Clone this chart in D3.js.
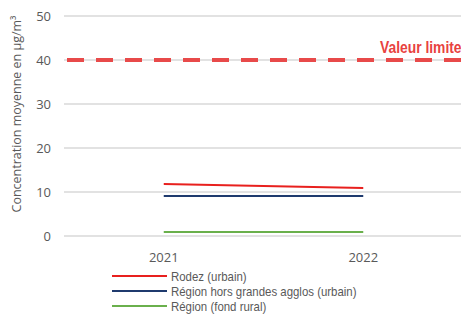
<!DOCTYPE html>
<html>
<head>
<meta charset="utf-8">
<script src="https://cdn.jsdelivr.net/npm/d3@7"></script>
<style>
  body { margin: 0; background: #fff; }
  text { font-family: "Open Sans", "DejaVu Sans", sans-serif; }
</style>
</head>
<body>
<div id="chart"></div>
<script>
// data
var years = ["2021", "2022"];
var seriesNames = ["Rodez (urbain)", "Région hors grandes agglos (urbain)", "Région (fond rural)"];
var seriesColors = ["#e8201e", "#1f3a6e", "#6ab04c"];
var rodez = [11.8, 10.9];
var regionUrbain = [9.1, 9.1];
var regionRural = [0.9, 0.9];
var yTicks = [0, 10, 20, 30, 40, 50];
var limitValue = 40;
var limitLabel = "Valeur limite";

var width = 461, height = 316;
var margin = {top: 16, right: -2, bottom: 80, left: 64};

var svg = d3.select("#chart").append("svg")
    .attr("width", width)
    .attr("height", height);

var x = d3.scaleBand()
    .domain(years)
    .range([margin.left, width - margin.right]);

var y = d3.scaleLinear()
    .domain([0, 50])
    .range([height - margin.bottom, margin.top]);

// gridlines
svg.append("g")
    .selectAll("line")
    .data(yTicks)
    .enter().append("line")
    .attr("x1", margin.left)
    .attr("x2", width)
    .attr("y1", function(d) { return y(d); })
    .attr("y2", function(d) { return y(d); })
    .style("stroke", "#d9d9d9")
    .style("stroke-width", 1.5);

// y tick labels
svg.append("g")
    .selectAll("text")
    .data(yTicks)
    .enter().append("text")
    .attr("x", 51)
    .attr("y", function(d) { return y(d); })
    .attr("dy", "0.35em")
    .attr("text-anchor", "end")
    .style("font-size", "13px")
    .style("fill", "#595959")
    .text(function(d) { return d; });

// y axis title
svg.append("text")
    .attr("transform", "translate(21,114) rotate(-90) scale(0.96,1)")
    .attr("text-anchor", "middle")
    .style("font-size", "13px")
    .style("fill", "#595959")
    .text("Concentration moyenne en µg/m³");

// x labels
svg.append("g")
    .selectAll("text")
    .data(years)
    .enter().append("text")
    .attr("x", function(d) { return x(d) + x.bandwidth() / 2; })
    .attr("y", 262)
    .attr("text-anchor", "middle")
    .style("font-size", "13px")
    .style("fill", "#595959")
    .text(function(d) { return d; });

// limit line
svg.append("line")
    .attr("x1", margin.left + 3)
    .attr("x2", width)
    .attr("y1", y(limitValue))
    .attr("y2", y(limitValue))
    .style("stroke", "#e84a4a")
    .style("stroke-width", 4)
    .style("stroke-dasharray", "17,12");

svg.append("text")
    .attr("transform", "translate(380," + (y(limitValue) - 7) + ") scale(0.84,1)")
    .style("font-family", "'Liberation Sans', Arial, sans-serif")
    .style("font-weight", "bold")
    .style("font-size", "16.5px")
    .style("fill", "#e8423f")
    .text(limitLabel);

// series lines
var allSeries = [rodez, regionUrbain, regionRural];
var line = d3.line()
    .x(function(d, i) { return x(years[i]) + x.bandwidth() / 2; })
    .y(function(d) { return y(d); });

svg.append("g")
    .selectAll("path")
    .data(allSeries)
    .enter().append("path")
    .attr("d", line)
    .style("fill", "none")
    .style("stroke", function(d, i) { return seriesColors[i]; })
    .style("stroke-width", 2);

// legend
var legend = svg.append("g").attr("class", "legend");
var items = legend.selectAll("g")
    .data(seriesNames)
    .enter().append("g")
    .attr("transform", function(d, i) { return "translate(112," + (276 + i * 15) + ")"; });

items.append("line")
    .attr("x1", 0)
    .attr("x2", 55)
    .style("stroke", function(d, i) { return seriesColors[i]; })
    .style("stroke-width", 2);

items.append("text")
    .attr("transform", "translate(59,0) scale(0.88,1)")
    .attr("dy", "0.35em")
    .style("font-family", "'Liberation Sans', Arial, sans-serif")
    .style("font-size", "13px")
    .style("fill", "#595959")
    .text(function(d) { return d; });
</script>
</body>
</html>
